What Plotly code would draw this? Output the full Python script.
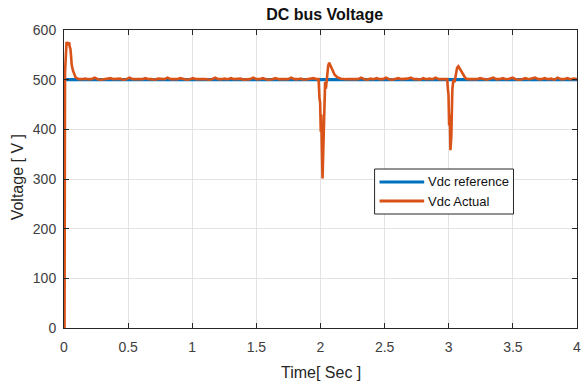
import numpy as np
import plotly.graph_objects as go

# ---- data ----
ref_t = [0.0, 4.0]
ref_v = [500, 500]

# startup transient
start_t = [0.0, 0.004, 0.008, 0.012, 0.02, 0.03, 0.04, 0.045, 0.05, 0.055, 0.06, 0.07, 0.08, 0.09, 0.10, 0.12]
start_v = [0, 0, 515, 540, 576, 570, 575, 566, 562, 548, 530, 518, 510, 505, 503, 501]

# disturbance at t = 2 s
dip1_t = [1.985, 1.992, 1.997, 2.002, 2.006, 2.010, 2.016, 2.022, 2.030, 2.036, 2.042, 2.050, 2.060, 2.068, 2.080, 2.095, 2.110, 2.130, 2.160, 2.200]
dip1_v = [501, 462, 455, 395, 430, 372, 301, 360, 470, 495, 482, 505, 528, 534, 528, 518, 510, 505, 502, 501]

# disturbance at t = 3 s
dip2_t = [2.988, 2.993, 2.998, 3.003, 3.008, 3.013, 3.020, 3.028, 3.036, 3.045, 3.055, 3.065, 3.075, 3.090, 3.110, 3.130, 3.150]
dip2_v = [501, 482, 470, 408, 430, 358, 385, 480, 500, 495, 512, 524, 527, 520, 510, 503, 501]

# steady-state ripple (hand-read small spikes around 500 V)
ripple1_v = [501, 502, 501, 501, 504, 501, 500, 501, 501, 503, 501, 501, 502, 500, 501, 504,
             501, 501, 501, 501, 503, 501, 501, 500, 502, 501, 501, 504, 501, 501, 501, 503,
             501, 500, 501, 503, 501, 501, 502, 501, 500, 501, 504, 501, 501, 502, 501, 503,
             501, 501, 502, 500, 501, 501, 504, 501, 501, 503, 501, 500, 501, 503, 501, 501,
             502, 501, 504, 501, 501, 502, 500, 501, 501, 503, 501]
ripple2_v = [501, 502, 501, 501, 504, 501, 500, 502, 501, 503, 501, 501, 504, 501, 500, 501,
             503, 501, 501, 502, 504, 501, 501, 500, 503, 501, 502, 501, 504, 501, 501, 501]
ripple3_v = [501, 501, 501, 503, 501, 500, 502, 504, 501, 501, 503, 501, 502, 504, 501, 500,
             501, 503, 501, 502, 504, 501, 501, 503, 501, 502, 500, 504, 501, 501, 503, 501, 502, 501]

ripple1_t = list(np.linspace(0.14, 1.97, len(ripple1_v)))
ripple2_t = list(np.linspace(2.22, 2.97, len(ripple2_v)))
ripple3_t = list(np.linspace(3.17, 4.0, len(ripple3_v)))

act_t = start_t + ripple1_t + dip1_t + ripple2_t + dip2_t + ripple3_t
act_v = start_v + ripple1_v + dip1_v + ripple2_v + dip2_v + ripple3_v

x_ticks = [0, 0.5, 1, 1.5, 2, 2.5, 3, 3.5, 4]
x_ticktext = ["0", "0.5", "1", "1.5", "2", "2.5", "3", "3.5", "4"]
y_ticks = [0, 100, 200, 300, 400, 500, 600]
series_names = ["Vdc reference", "Vdc Actual"]

BLUE = "#0072BD"
ORANGE = "#D95319"
AX = "#262626"
FONT = "Liberation Sans, Arial, sans-serif"

fig = go.Figure()
fig.add_trace(go.Scatter(x=ref_t, y=ref_v, mode="lines", name=series_names[0],
                         line=dict(color=BLUE, width=3.2)))
fig.add_trace(go.Scatter(x=act_t, y=act_v, mode="lines", name=series_names[1],
                         line=dict(color=ORANGE, width=2.6)))

axis_common = dict(showline=True, linecolor=AX, linewidth=1, mirror="ticks",
                   ticks="inside", ticklen=5, tickcolor=AX,
                   showgrid=True, gridcolor="#e3e3e3", gridwidth=1, zeroline=False,
                   tickfont=dict(family=FONT, size=14, color="#404040"))

fig.update_xaxes(range=[0, 4], tickvals=x_ticks, ticktext=x_ticktext,
                 ticklabelstandoff=6, ticklabeloverflow="allow", **axis_common)
fig.update_yaxes(range=[0, 600], tickvals=y_ticks, ticklabelstandoff=4, **axis_common)

# manual MATLAB-style legend box (paper coordinates)
PL, PR, PT, PB = 64, 581, 30, 328
def px(x):
    return (x - PL) / (PR - PL)
def py(y):
    return (PB - y) / (PB - PT)

shapes = [
    dict(type="rect", xref="paper", yref="paper", x0=px(377), x1=px(517), y0=py(214), y1=py(169),
         line=dict(color=AX, width=1), fillcolor="white", layer="above"),
    dict(type="line", xref="paper", yref="paper", x0=px(382), x1=px(427), y0=py(182), y1=py(182),
         line=dict(color=BLUE, width=3), layer="above"),
    dict(type="line", xref="paper", yref="paper", x0=px(382), x1=px(427), y0=py(201), y1=py(201),
         line=dict(color=ORANGE, width=3), layer="above"),
]

annotations = [
    dict(text="Time[ Sec ]", x=0.5, y=-0.148, xref="paper", yref="paper",
         xanchor="center", yanchor="middle", showarrow=False,
         font=dict(family=FONT, size=16, color="#262626")),
    dict(text="Voltage [ V ]", x=-0.09, y=0.505, xref="paper", yref="paper",
         xanchor="center", yanchor="middle", showarrow=False, textangle=-90,
         font=dict(family=FONT, size=16, color="#262626")),
    dict(text=series_names[0], x=px(429), y=py(182), xref="paper", yref="paper",
         xanchor="left", yanchor="middle", showarrow=False,
         font=dict(family=FONT, size=13, color="#111111")),
    dict(text=series_names[1], x=px(429), y=py(201), xref="paper", yref="paper",
         xanchor="left", yanchor="middle", showarrow=False,
         font=dict(family=FONT, size=13, color="#111111")),
]

fig.update_layout(
    width=585, height=387,
    margin=dict(l=PL, r=585 - PR, t=PT, b=387 - PB),
    paper_bgcolor="white", plot_bgcolor="white",
    title=dict(text="<b>DC bus Voltage</b>", x=0.555, xanchor="center",
               y=1 - 14 / 387, yanchor="middle", yref="container",
               font=dict(family=FONT, size=16, color="#111111")),
    showlegend=False,
    shapes=shapes,
    annotations=annotations,
)

fig.write_html("out.html")
